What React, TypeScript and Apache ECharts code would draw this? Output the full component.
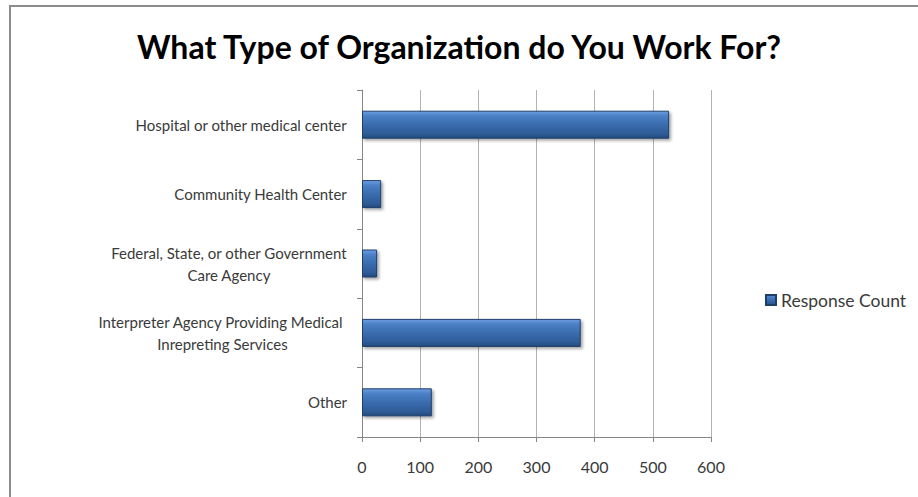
import React, { useEffect, useRef } from "react";
import * as echarts from "echarts";

const titleText = "What Type of Organization do You Work For?";
const categories = [
  "Hospital or other medical center",
  "Community Health Center",
  "Federal, State, or other Government\nCare Agency",
  "Interpreter Agency Providing Medical \nInrepreting Services",
  "Other",
];
const seriesName = "Response Count";
const responseCount = [528, 33, 26, 376, 120];
const xMin = 0;
const xMax = 600;
const xInterval = 100;

const FONT = "Lato, 'Open Sans', sans-serif";
const TEXT = "#3a3a3a";

export default function App() {
  const ref = useRef<HTMLDivElement>(null);
  useEffect(() => {
    if (!ref.current) return;
    const chart = echarts.init(ref.current, null, { renderer: "svg" });
    const barGradient = new echarts.graphic.LinearGradient(0, 0, 0, 1, [
      { offset: 0, color: "#6d9de0" },
      { offset: 0.18, color: "#4a80c6" },
      { offset: 0.5, color: "#3a6cae" },
      { offset: 0.85, color: "#2e5b96" },
      { offset: 1, color: "#244a7c" },
    ]);
    chart.setOption({
      animation: false,
      backgroundColor: "#ffffff",
      textStyle: { fontFamily: FONT },
      title: {
        text: titleText,
        left: "center",
        top: 25,
        textStyle: {
          fontFamily: FONT,
          fontSize: 32,
          fontWeight: "bold",
          color: "#000000",
        },
      },
      graphic: [
        {
          type: "rect",
          shape: { x: 10, y: 6, width: 1200, height: 800 },
          style: { fill: "none", stroke: "#8c8c8c", lineWidth: 2 },
          silent: true,
          z: 0,
        },
      ],
      legend: {
        left: 760,
        top: 286,
        orient: "vertical",
        icon: "rect",
        itemWidth: 10,
        itemHeight: 10,
        itemGap: 5,
        data: [seriesName],
        textStyle: { fontFamily: FONT, fontSize: 17.5, color: TEXT },
      },
      grid: { left: 362, right: 207, top: 90, bottom: 60, containLabel: false },
      xAxis: {
        type: "value",
        min: xMin,
        max: xMax,
        interval: xInterval,
        axisLine: { show: true, lineStyle: { color: "#868686", width: 1 } },
        axisTick: { show: true, length: 5, lineStyle: { color: "#868686" } },
        splitLine: { show: true, lineStyle: { color: "#b4b4b4", width: 1 } },
        axisLabel: {
          margin: 21,
          fontFamily: FONT,
          fontSize: 16,
          color: TEXT,
        },
      },
      yAxis: {
        type: "category",
        inverse: true,
        data: categories,
        axisLine: { show: true, lineStyle: { color: "#868686", width: 1 } },
        axisTick: { show: true, length: 5, lineStyle: { color: "#868686" } },
        axisLabel: {
          margin: 15,
          fontFamily: FONT,
          fontSize: 15,
          color: TEXT,
          lineHeight: 22,
          formatter: (v: string) =>
            v
              .split("\n")
              .map((l) => `{c|${l}}`)
              .join("\n"),
          rich: {
            c: {
              align: "center",
              fontFamily: FONT,
              fontSize: 15,
              color: TEXT,
              lineHeight: 22,
            },
          },
        },
      },
      series: [
        {
          name: seriesName,
          type: "bar",
          data: responseCount,
          barWidth: 28,
          itemStyle: {
            color: barGradient,
            borderColor: "#1f3f6a",
            borderWidth: 1,
            shadowColor: "rgba(0,0,0,0.35)",
            shadowBlur: 3,
            shadowOffsetX: 2,
            shadowOffsetY: 2,
          },
        },
      ],
    });
    return () => chart.dispose();
  }, []);
  return (
    <div
      ref={ref}
      style={{ position: "absolute", left: 0, top: 0, width: 918, height: 497 }}
    />
  );
}
